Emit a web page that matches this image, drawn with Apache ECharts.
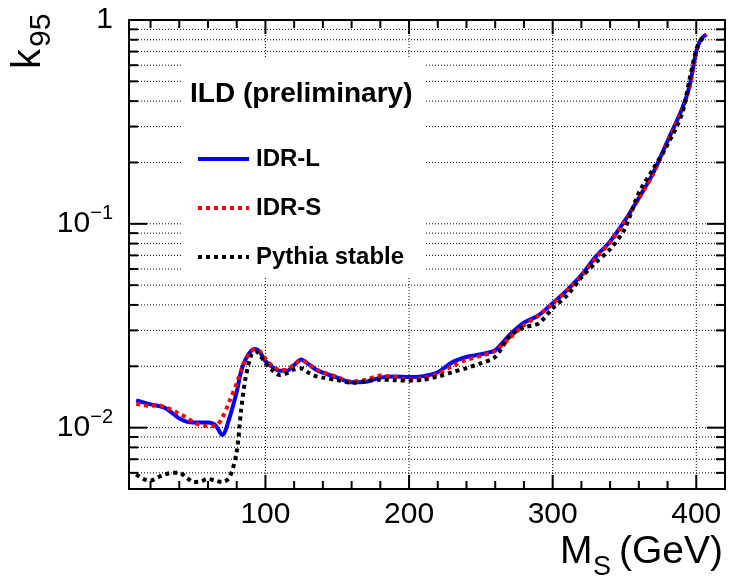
<!DOCTYPE html>
<html>
<head>
<meta charset="utf-8">
<script src="https://cdn.jsdelivr.net/npm/echarts@6/dist/echarts.min.js"></script>
<style>
  html, body { margin: 0; padding: 0; background: #fff; }
  #chart { width: 729px; height: 578px; }
</style>
</head>
<body>
<div id="chart"></div>
<script>
// scalar mass points (GeV) shared by the three curves
const massGeV = [10, 15, 20, 25, 30, 35, 40, 45, 50, 55, 60, 65, 70, 75, 80, 83, 86, 90, 93, 96,
  100, 105, 110, 115, 120, 125, 130, 135, 140, 150, 160, 170, 180, 190, 200, 210, 220, 230, 240,
  250, 260, 270, 280, 290, 300, 310, 320, 330, 340, 350, 360, 370, 380, 390, 395, 400, 403, 407];

const idrL = [0.0136, 0.0133, 0.0130, 0.0128, 0.0125, 0.0118, 0.0111, 0.0107, 0.0106, 0.0106, 0.0106, 0.0103, 0.0092, 0.0112, 0.0150, 0.0188, 0.0215, 0.0238, 0.0243, 0.0235,
  0.0212, 0.0198, 0.0190, 0.0190, 0.0203, 0.0216, 0.0205, 0.0193, 0.0186, 0.0176, 0.0167, 0.0168, 0.0176, 0.0178, 0.0177, 0.0179, 0.0187, 0.0209, 0.0222,
  0.0229, 0.0240, 0.0285, 0.0327, 0.0355, 0.0408, 0.0473, 0.0560, 0.0690, 0.0820, 0.103, 0.134, 0.178, 0.255, 0.365, 0.465, 0.700, 0.800, 0.850];

const idrS = [0.0131, 0.0129, 0.0128, 0.0129, 0.0126, 0.0122, 0.0117, 0.0112, 0.0106, 0.0103, 0.0102, 0.0102, 0.0112, 0.0135, 0.0165, 0.0190, 0.0215, 0.0237, 0.0243, 0.0237,
  0.0218, 0.0200, 0.0192, 0.0192, 0.0205, 0.0214, 0.0205, 0.0194, 0.0187, 0.0177, 0.0168, 0.0172, 0.0180, 0.0177, 0.0172, 0.0175, 0.0184, 0.0200, 0.0215,
  0.0225, 0.0238, 0.0275, 0.0318, 0.0355, 0.0405, 0.0470, 0.0555, 0.0680, 0.0810, 0.102, 0.133, 0.176, 0.250, 0.360, 0.460, 0.690, 0.790, 0.850];

const pythiaStable = [0.0059, 0.0056, 0.0055, 0.0057, 0.0059, 0.0060, 0.0060, 0.0057, 0.0054, 0.00545, 0.0056, 0.0055, 0.0054, 0.0057, 0.0076, 0.0121, 0.0173, 0.0226, 0.0237, 0.0228,
  0.0207, 0.0191, 0.0181, 0.0185, 0.0193, 0.0195, 0.0186, 0.0179, 0.0176, 0.0171, 0.0166, 0.0169, 0.0172, 0.0171, 0.0170, 0.0172, 0.0178, 0.0187, 0.0196,
  0.0207, 0.0222, 0.0280, 0.0310, 0.0324, 0.0385, 0.0445, 0.0545, 0.0645, 0.0750, 0.094, 0.142, 0.186, 0.245, 0.345, 0.500, 0.715, 0.790, 0.840];

const xMajorTicks = [100, 200, 300, 400];
const xMinorTicks = [20, 40, 60, 80, 120, 140, 160, 180, 220, 240, 260, 280, 320, 340, 360, 380];
const yMajorTicks = [0.01, 0.1, 1];
const yMinorTicks = [0.006, 0.007, 0.008, 0.009, 0.02, 0.03, 0.04, 0.05, 0.06, 0.07, 0.08, 0.09,
  0.2, 0.3, 0.4, 0.5, 0.6, 0.7, 0.8, 0.9];

const X_MIN = 5, X_MAX = 420, Y_MIN = 0.005, Y_MAX = 1;
const FONT = 'Liberation Sans, Arial, Helvetica, sans-serif';

const chart = echarts.init(document.getElementById('chart'));

function pairs(ys) {
  return massGeV.map((m, i) => [m, ys[i]]);
}

// horizontal grid lines + left/right ticks
function renderYMarks(params, api) {
  const cs = params.coordSys;
  const v = api.value(1);
  const y = api.coord([X_MIN, v])[1];
  const major = yMajorTicks.some(t => Math.abs(t - v) < 1e-9);
  const len = major ? 18 : 9;
  const kids = [];
  if (v < Y_MAX) {
    kids.push({ type: 'line', shape: { x1: cs.x, y1: y, x2: cs.x + cs.width, y2: y },
      style: { stroke: '#000', lineWidth: 1, lineDash: [1, 2] } });
  }
  kids.push({ type: 'line', shape: { x1: cs.x, y1: y, x2: cs.x + len, y2: y },
    style: { stroke: '#000', lineWidth: 2 } });
  kids.push({ type: 'line', shape: { x1: cs.x + cs.width - len, y1: y, x2: cs.x + cs.width, y2: y },
    style: { stroke: '#000', lineWidth: 2 } });
  return { type: 'group', children: kids };
}

// vertical grid lines + bottom/top ticks
function renderXMarks(params, api) {
  const cs = params.coordSys;
  const v = api.value(0);
  const x = api.coord([v, Y_MIN])[0];
  const major = xMajorTicks.indexOf(v) >= 0;
  const len = major ? 14 : 8;
  const kids = [];
  if (major) {
    kids.push({ type: 'line', shape: { x1: x, y1: cs.y, x2: x, y2: cs.y + cs.height },
      style: { stroke: '#000', lineWidth: 1, lineDash: [1, 2] } });
  }
  kids.push({ type: 'line', shape: { x1: x, y1: cs.y + cs.height - len, x2: x, y2: cs.y + cs.height },
    style: { stroke: '#000', lineWidth: 2 } });
  kids.push({ type: 'line', shape: { x1: x, y1: cs.y, x2: x, y2: cs.y + len },
    style: { stroke: '#000', lineWidth: 2 } });
  return { type: 'group', children: kids };
}

chart.setOption({
  animation: false,
  backgroundColor: '#fff',
  grid: { left: 129, right: 4, top: 20, bottom: 89 },
  xAxis: [
    {
      type: 'value', min: X_MIN, max: X_MAX, position: 'bottom',
      axisLine: { lineStyle: { color: '#000', width: 2 } },
      axisTick: { show: false },
      splitLine: { show: false },
      axisLabel: {
        margin: 11, fontSize: 30, color: '#000', fontFamily: FONT,
        formatter: v => (v % 100 === 0 ? String(v) : '')
      }
    },
    {
      type: 'value', min: X_MIN, max: X_MAX, position: 'top',
      axisLine: { lineStyle: { color: '#000', width: 2 } },
      axisTick: { show: false }, axisLabel: { show: false }, splitLine: { show: false }
    }
  ],
  yAxis: [
    {
      type: 'log', logBase: 10, min: Y_MIN, max: Y_MAX, position: 'left',
      axisLine: { lineStyle: { color: '#000', width: 2 } },
      axisTick: { show: false },
      splitLine: { show: false },
      axisLabel: {
        margin: 16, color: '#000', fontFamily: FONT,
        formatter: v => {
          const l = Math.log10(v);
          const e = Math.round(l);
          if (Math.abs(l - e) > 1e-6) return '';
          if (e === 0) return '{b|1}';
          return '{b|10}{s|\u2212' + (-e) + '}';
        },
        rich: {
          b: { fontSize: 30, lineHeight: 40, fontFamily: FONT, color: '#000' },
          s: { fontSize: 20, lineHeight: 20, verticalAlign: 'top', fontFamily: FONT, color: '#000' }
        }
      }
    },
    {
      type: 'log', logBase: 10, min: Y_MIN, max: Y_MAX, position: 'right',
      axisLine: { lineStyle: { color: '#000', width: 2 } },
      axisTick: { show: false }, axisLabel: { show: false }, splitLine: { show: false }
    }
  ],
  legend: {
    data: ['IDR-L', 'IDR-S', 'Pythia stable'],
    orient: 'vertical', left: 196, top: 147, padding: 0,
    itemWidth: 51, itemHeight: 14, itemGap: 25,
    selectedMode: false, z: 20,
    itemStyle: { opacity: 0 },
    lineStyle: { width: 4 },
    textStyle: { fontSize: 24, fontWeight: 'bold', color: '#000', fontFamily: FONT, padding: [0, 0, 0, 2] }
  },
  graphic: [
    { type: 'rect', z: 10, shape: { x: 183, y: 58, width: 243, height: 220 }, style: { fill: '#fff' } },
    { type: 'text', z: 21, x: 190, y: 94,
      style: { text: 'ILD (preliminary)', font: 'bold 28px ' + FONT, fill: '#000', verticalAlign: 'middle' } },
    { type: 'text', x: 560, y: 552,
      style: { text: 'M', font: '39px ' + FONT, fill: '#000', verticalAlign: 'middle' } },
    { type: 'text', x: 593, y: 568,
      style: { text: 'S', font: '27px ' + FONT, fill: '#000', verticalAlign: 'middle' } },
    { type: 'text', x: 619, y: 552,
      style: { text: '(GeV)', font: '39px ' + FONT, fill: '#000', verticalAlign: 'middle' } },
    { type: 'text', x: 29, y: 69, rotation: Math.PI / 2,
      style: { text: 'k', font: '40px ' + FONT, fill: '#000', verticalAlign: 'middle' } },
    { type: 'text', x: 42, y: 47, rotation: Math.PI / 2,
      style: { text: '95', font: '30px ' + FONT, fill: '#000', verticalAlign: 'middle' } }
  ],
  series: [
    {
      name: 'yGrid', type: 'custom', xAxisIndex: 0, yAxisIndex: 0, silent: true, z: 1,
      renderItem: renderYMarks,
      data: yMajorTicks.concat(yMinorTicks).map(v => [X_MIN, v])
    },
    {
      name: 'xGrid', type: 'custom', xAxisIndex: 0, yAxisIndex: 0, silent: true, z: 1,
      renderItem: renderXMarks,
      data: xMajorTicks.concat(xMinorTicks).map(v => [v, Y_MIN])
    },
    {
      name: 'IDR-L', type: 'line', xAxisIndex: 0, yAxisIndex: 0,
      symbol: 'none', smooth: 0.3, data: pairs(idrL),
      lineStyle: { color: '#0000ff', width: 4 }, itemStyle: { color: '#0000ff' }
    },
    {
      name: 'IDR-S', type: 'line', xAxisIndex: 0, yAxisIndex: 0,
      symbol: 'none', smooth: 0.3, data: pairs(idrS),
      lineStyle: { color: '#ff0000', width: 4, type: [4, 4] }, itemStyle: { color: '#ff0000' }
    },
    {
      name: 'Pythia stable', type: 'line', xAxisIndex: 0, yAxisIndex: 0,
      symbol: 'none', smooth: 0.3, data: pairs(pythiaStable),
      lineStyle: { color: '#000000', width: 4, type: [4, 4] }, itemStyle: { color: '#000000' }
    }
  ]
});
</script>
</body>
</html>
